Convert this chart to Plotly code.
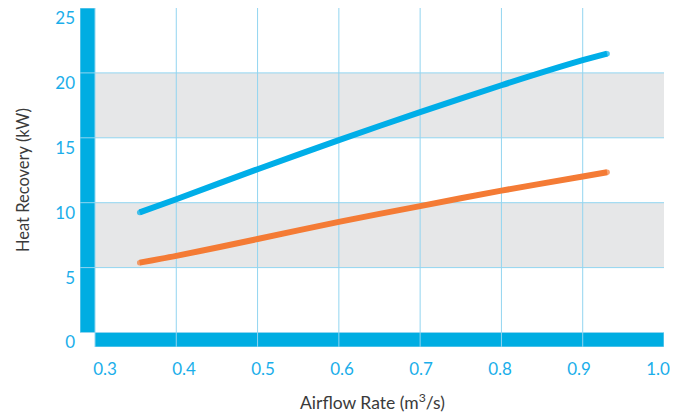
import plotly.graph_objects as go

# ---- data ----
airflow = [0.355, 0.4, 0.5, 0.6, 0.7, 0.8, 0.9, 0.93]
blue_kw = [9.25, 10.27, 12.58, 14.82, 16.98, 19.05, 20.98, 21.48]
orange_kw = [5.38, 5.90, 7.20, 8.52, 9.74, 10.93, 12.02, 12.35]
x_ticks = [0.3, 0.4, 0.5, 0.6, 0.7, 0.8, 0.9, 1.0]
x_ticktext = ["0.3", "0.4", "0.5", "0.6", "0.7", "0.8", "0.9", "1.0"]
y_ticks = [0, 5, 10, 15, 20, 25]
bands = [(5, 10), (15, 20)]
x_title = "Airflow Rate (m<sup>3</sup>/s)"
y_title = "Heat Recovery (kW)"

# ---- style ----
BAR = "#00ADE2"
GRID = "#92D5F0"
BAND = "#E6E7E8"
TICK = "#1AAEEA"
TXT = "#3A3A3A"
FONT = "Lato"

X_MIN, X_MAX = 0.28155, 1.0
Y_MIN, Y_MAX = -1.117, 25

fig = go.Figure()

n = len(airflow)
caps = [5.5] + [0] * (n - 2) + [5.5]
for yv, col in ((blue_kw, "#00AEE8"), (orange_kw, "#F47B35")):
    fig.add_trace(go.Scatter(x=airflow, y=yv, mode="lines+markers",
                             line=dict(color=col, width=6, shape="spline", smoothing=0.8),
                             marker=dict(size=caps, color=col, line=dict(width=0)),
                             hoverinfo="skip", showlegend=False))
# invisible trace to carry the tick-label axis
fig.add_trace(go.Scatter(x=[x_ticks[0]], y=[0], xaxis="x2", mode="none",
                         hoverinfo="skip", showlegend=False))

shapes = []
for y0, y1 in bands:
    shapes.append(dict(type="rect", xref="x", yref="y", x0=0.3, x1=X_MAX,
                       y0=y0, y1=y1, fillcolor=BAND, line=dict(width=0),
                       layer="below"))
# thick axis bars
shapes.append(dict(type="rect", xref="x", yref="y", x0=X_MIN, x1=0.3,
                   y0=0, y1=Y_MAX, fillcolor=BAR, line=dict(color=GRID, width=1),
                   layer="below"))
shapes.append(dict(type="rect", xref="x", yref="y", x0=0.3, x1=X_MAX,
                   y0=Y_MIN, y1=0, fillcolor=BAR, line=dict(color=GRID, width=1),
                   layer="below"))
# grid lines
for yv in y_ticks[1:-1]:
    shapes.append(dict(type="line", xref="x", yref="y", x0=X_MIN, x1=X_MAX,
                       y0=yv, y1=yv, line=dict(color=GRID, width=1), layer="below"))
for xv in x_ticks[1:-1]:
    shapes.append(dict(type="line", xref="x", yref="y", x0=xv, x1=xv,
                       y0=Y_MIN, y1=Y_MAX, line=dict(color=GRID, width=1), layer="below"))

fig.update_layout(
    width=688, height=415,
    margin=dict(l=80, r=24, t=8, b=68, autoexpand=False),
    plot_bgcolor="white", paper_bgcolor="white",
    font=dict(family=FONT, size=17, color=TICK),
    shapes=shapes,
    xaxis=dict(range=[X_MIN, X_MAX], showgrid=False, zeroline=False,
               showline=False, showticklabels=False, ticks="", automargin=False),
    xaxis2=dict(overlaying="x", side="bottom", anchor="y", automargin=False,
                range=[0.26835, 1.0076], tickvals=x_ticks, ticktext=x_ticktext,
                showgrid=False, zeroline=False, showline=False, ticks="",
                ticklabelstandoff=10, tickfont=dict(color=TICK, size=17)),
    yaxis=dict(range=[Y_MIN, Y_MAX], tickvals=y_ticks, showgrid=False,
               zeroline=False, showline=False, ticks="", automargin=False,
               ticklabelshift=10, ticklabelstandoff=4, ticklabeloverflow="allow",
               tickfont=dict(color=TICK, size=17)),
    annotations=[
        dict(text=x_title, xref="paper", yref="paper", x=0.5, y=-0.1593,
             showarrow=False, font=dict(color=TXT, size=17.5, family=FONT),
             xanchor="center", yanchor="middle"),
        dict(text=y_title, xref="paper", yref="paper", x=-0.0975, y=0.4926,
             showarrow=False, textangle=-90, font=dict(color=TXT, size=16.5, family=FONT),
             xanchor="center", yanchor="middle"),
    ],
)

fig.write_html("out.html", config={"displayModeBar": False},
               post_script="document.body.style.margin='0';")
